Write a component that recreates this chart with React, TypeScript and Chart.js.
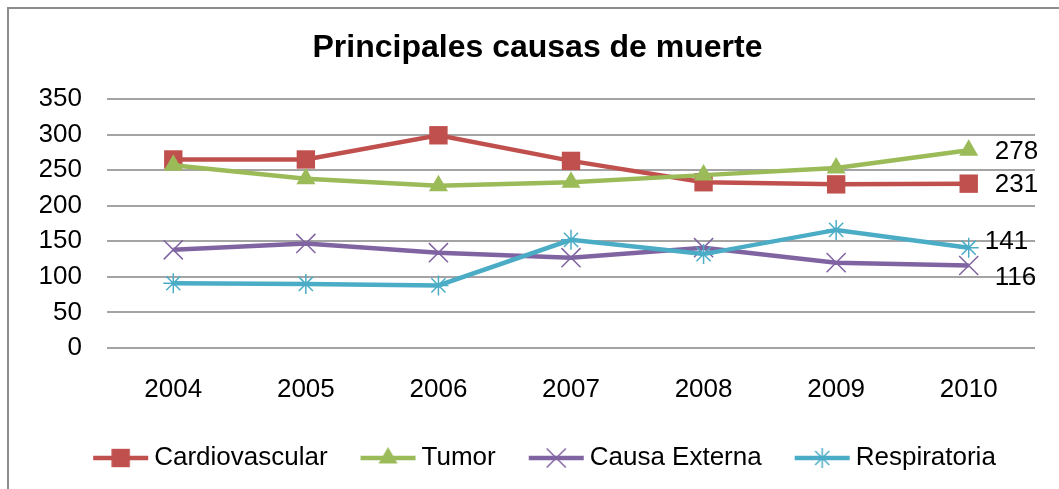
import React, { useEffect, useRef } from 'react';
import { Chart, registerables } from 'chart.js';

Chart.register(...registerables);

const years = ['2004', '2005', '2006', '2007', '2008', '2009', '2010'];
const cardiovascular = [265, 265, 299, 263, 233, 230, 231];
const tumor = [257, 238, 228, 233, 243, 253, 278];
const causaExterna = [138, 147, 134, 127, 141, 120, 116];
const respiratoria = [91, 90, 88, 152, 132, 166, 141];
const seriesNames = ['Cardiovascular', 'Tumor', 'Causa Externa', 'Respiratoria'];
const seriesColors = ['#C0504D', '#9BBB59', '#8064A2', '#4BACC6'];
const seriesMarkers = ['rect', 'triangle', 'crossRot', 'star'];
const titleText = 'Principales causas de muerte';
const yMin = 0;
const yMax = 350;
const yStep = 50;

const FONT = "'Liberation Sans', Arial, sans-serif";

// label offsets for the end-of-line value labels (style only)
const endLabelOffsets = [
  { dx: 26, dy: 1 },
  { dx: 26, dy: 2 },
  { dx: 26, dy: 12 },
  { dx: 16, dy: -6 },
];

function makeLegendIcon(color: string, marker: string, radius: number) {
  const c = document.createElement('canvas');
  c.width = 80;
  c.height = 30;
  const ctx = c.getContext('2d')!;
  ctx.strokeStyle = color;
  ctx.lineWidth = 4.5;
  ctx.beginPath();
  ctx.moveTo(23, 15);
  ctx.lineTo(78, 15);
  ctx.stroke();
  const cx = 50.5;
  const cy = 15;
  ctx.fillStyle = color;
  ctx.strokeStyle = color;
  if (marker === 'rect') {
    const s = radius * Math.SQRT1_2;
    ctx.fillRect(cx - s, cy - s, 2 * s, 2 * s);
  } else if (marker === 'triangle') {
    ctx.beginPath();
    ctx.moveTo(cx, cy - radius);
    ctx.lineTo(cx + radius * 0.866, cy + radius * 0.5);
    ctx.lineTo(cx - radius * 0.866, cy + radius * 0.5);
    ctx.closePath();
    ctx.fill();
  } else {
    ctx.lineWidth = 1.5;
    ctx.beginPath();
    const d = radius * Math.SQRT1_2;
    ctx.moveTo(cx - d, cy - d);
    ctx.lineTo(cx + d, cy + d);
    ctx.moveTo(cx - d, cy + d);
    ctx.lineTo(cx + d, cy - d);
    if (marker === 'star') {
      ctx.moveTo(cx, cy - radius);
      ctx.lineTo(cx, cy + radius);
      ctx.moveTo(cx - radius, cy);
      ctx.lineTo(cx + radius, cy);
    }
    ctx.stroke();
  }
  return c;
}

const endLabelsPlugin = {
  id: 'endLabels',
  afterDatasetsDraw(chart: any) {
    const ctx = chart.ctx;
    ctx.save();
    ctx.font = `26px ${FONT}`;
    ctx.fillStyle = '#000';
    ctx.textAlign = 'left';
    ctx.textBaseline = 'middle';
    chart.data.datasets.forEach((ds: any, i: number) => {
      const meta = chart.getDatasetMeta(i);
      const last = meta.data.length - 1;
      const pt = meta.data[last];
      if (!pt) return;
      const off = endLabelOffsets[i];
      ctx.fillText(String(ds.data[last]), pt.x + off.dx, pt.y + off.dy);
    });
    ctx.restore();
  },
};

export default function App() {
  const ref = useRef<HTMLCanvasElement | null>(null);

  useEffect(() => {
    if (!ref.current) return;
    const values = [cardiovascular, tumor, causaExterna, respiratoria];
    const radii = [13, 11, 13.5, 10];
    const orders = [1, 0, 3, 2];
    const icons = seriesNames.map((_, i) => makeLegendIcon(seriesColors[i], seriesMarkers[i], radii[i]));
    const chart = new Chart(ref.current, {
      type: 'line',
      data: {
        labels: years,
        datasets: seriesNames.map((name, i) => ({
          label: name,
          data: values[i],
          borderColor: seriesColors[i],
          backgroundColor: seriesColors[i],
          borderWidth: 4.5,
          tension: 0,
          pointStyle: seriesMarkers[i] as any,
          pointRadius: radii[i],
          pointHoverRadius: radii[i],
          pointBackgroundColor: seriesColors[i],
          pointBorderColor: seriesColors[i],
          pointBorderWidth: i < 2 ? 0 : 1.5,
          order: orders[i],
        })),
      },
      options: {
        animation: false,
        responsive: true,
        maintainAspectRatio: false,
        layout: { padding: { left: 40, right: 24, top: 0, bottom: 8 } },
        plugins: {
          title: {
            display: true,
            text: titleText,
            color: '#000',
            font: { family: FONT, size: 32, weight: 'bold' },
            padding: { top: 29, bottom: 31.6 },
          },
          legend: {
            display: true,
            position: 'bottom',
            labels: {
              usePointStyle: true,
              pointStyleWidth: 62,
              padding: 19,
              color: '#000',
              font: { family: FONT, size: 26 },
              generateLabels: (ch: any) =>
                ch.data.datasets.map((ds: any, i: number) => ({
                  text: ds.label,
                  fillStyle: seriesColors[i],
                  strokeStyle: seriesColors[i],
                  lineWidth: 0,
                  hidden: false,
                  datasetIndex: i,
                  pointStyle: icons[i],
                  fontColor: '#000',
                })),
            },
          },
          tooltip: { enabled: false },
        },
        scales: {
          x: {
            offset: true,
            grid: { display: false, drawTicks: false },
            border: { display: false },
            ticks: {
              color: '#000',
              font: { family: FONT, size: 26 },
              padding: 26,
              maxRotation: 0,
            },
            afterFit: (scale: any) => {
              scale.height = 78;
            },
          },
          y: {
            min: yMin,
            max: yMax,
            grid: { color: '#a4a4a4', lineWidth: 2, drawTicks: false },
            border: { display: false },
            ticks: {
              stepSize: yStep,
              color: '#000',
              font: { family: FONT, size: 26 },
              padding: 25,
            },
            afterFit: (scale: any) => {
              scale.width = 67;
            },
          },
        },
      },
      plugins: [endLabelsPlugin],
    });
    return () => chart.destroy();
  }, []);

  return (
    <div style={{ position: 'absolute', left: 0, top: 0, width: 1059, height: 489, background: '#fff' }}>
      <canvas ref={ref} />
      <div
        style={{
          position: 'absolute',
          left: 7,
          top: 7,
          right: 0,
          bottom: 0,
          borderTop: '2px solid #8c8c8c',
          borderLeft: '2px solid #8c8c8c',
          pointerEvents: 'none',
        }}
      />
    </div>
  );
}
